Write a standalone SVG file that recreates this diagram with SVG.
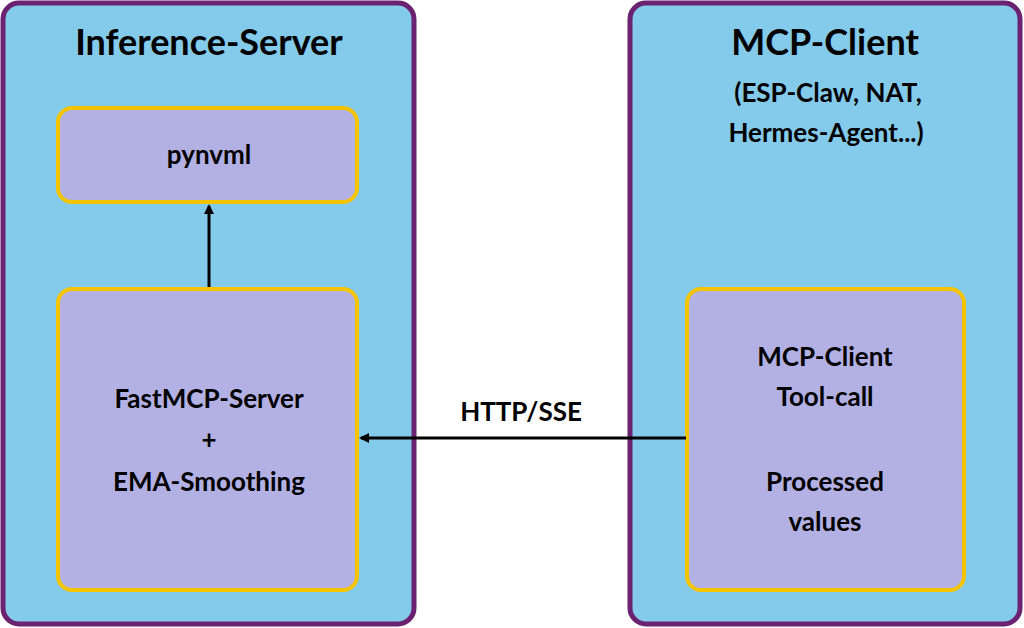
<svg xmlns="http://www.w3.org/2000/svg" width="1024" height="628" viewBox="0 0 1024 628">
<defs>
<style>
.outer{fill:#84CAEA;stroke:#6B2270;stroke-width:5}
.inner{fill:#B3B1E3;stroke:#F5C400;stroke-width:4}
text{font-family:Lato,"Open Sans",sans-serif;font-weight:bold;fill:#000;text-anchor:middle}
.t{font-size:36px}
.s{font-size:26px}
.c{stroke:#000;stroke-width:3;fill:none}
</style>
<marker id="a" markerWidth="10" markerHeight="10" refX="8" refY="5" orient="auto" markerUnits="userSpaceOnUse"><path d="M0,0 L10,5 L0,10 z" fill="#000"/></marker>
</defs>
<rect width="1024" height="628" fill="#fff"/>
<g id="inference-server"><rect class="outer" x="3" y="3" width="411" height="621" rx="16"/><text class="t" x="209" y="55">Inference-Server</text></g>
<g id="mcp-client"><rect class="outer" x="630" y="3" width="390" height="621" rx="16"/><text class="t" x="825" y="55">MCP-Client</text><text class="s" x="828" y="102">(ESP-Claw, NAT,</text><text class="s" x="826" y="142">Hermes-Agent...)</text></g>
<g id="pynvml"><rect class="inner" x="58" y="108" width="299" height="94" rx="14"/><text class="s" x="209" y="164">pynvml</text></g>
<g id="fastmcp"><rect class="inner" x="58" y="289" width="299" height="301" rx="14"/><text class="s" x="209" y="408">FastMCP-Server</text><text class="s" x="209" y="449">+</text><text class="s" x="209" y="491">EMA-Smoothing</text></g>
<g id="tool-call"><rect class="inner" x="687" y="289" width="277" height="301" rx="14"/><text class="s" x="825" y="366">MCP-Client</text><text class="s" x="825" y="406">Tool-call</text><text class="s" x="825" y="491">Processed</text><text class="s" x="825" y="531">values</text></g>
<g id="connectors">
<line class="c" x1="209" y1="287" x2="209" y2="206" marker-end="url(#a)"/>
<line class="c" x1="686" y1="438" x2="361" y2="438" marker-end="url(#a)"/>
<text class="s" x="521" y="421">HTTP/SSE</text>
</g>
</svg>
